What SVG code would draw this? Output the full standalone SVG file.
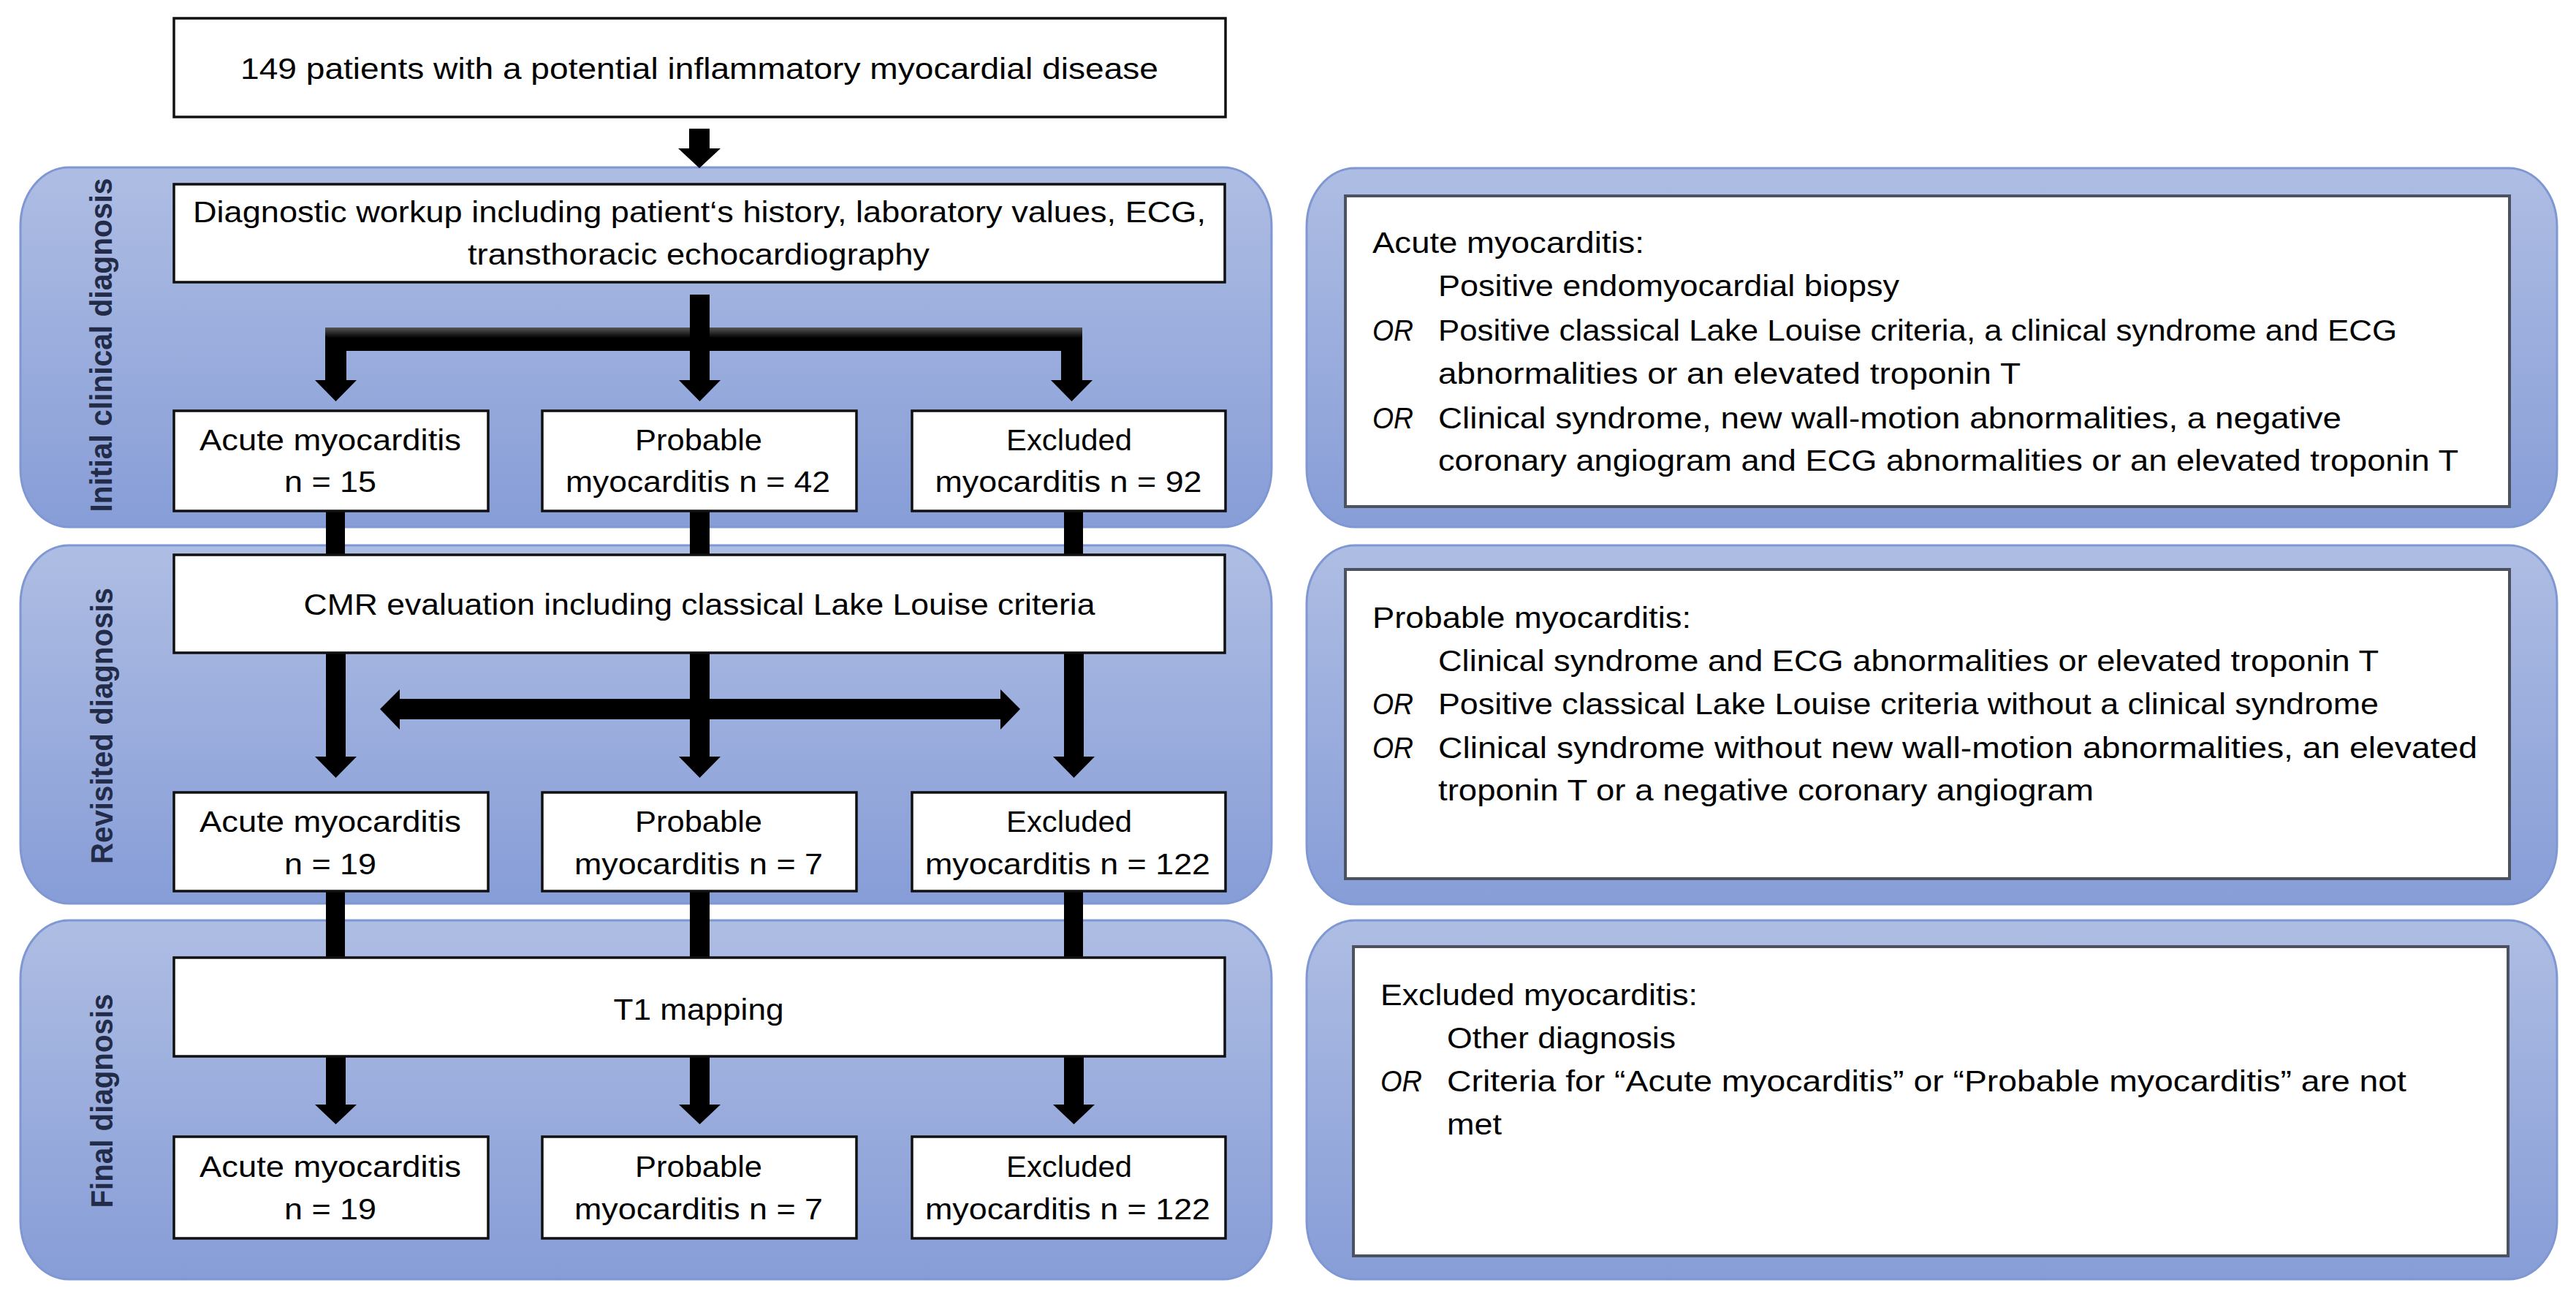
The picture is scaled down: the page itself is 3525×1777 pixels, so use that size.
<svg xmlns="http://www.w3.org/2000/svg" width="3525" height="1777" viewBox="0 0 3525 1777">
<defs>
  <linearGradient id="panelGrad" x1="0" y1="0" x2="0" y2="1">
    <stop offset="0" stop-color="#aebde3"/>
    <stop offset="1" stop-color="#879dd7"/>
  </linearGradient>
  <linearGradient id="barGrad" x1="0" y1="0" x2="0" y2="1">
    <stop offset="0" stop-color="#555"/>
    <stop offset="0.45" stop-color="#000"/>
  </linearGradient>
</defs>
<style>
  .panel{fill:url(#panelGrad);stroke:#7f97d2;stroke-width:3}
  .box{fill:#fff;stroke:#111;stroke-width:3.5}
  .defbox{fill:#fff;stroke:#4d5260;stroke-width:4}
  .t{font-family:"Liberation Sans",Arial,sans-serif;font-size:40px;fill:#000}
  .c{text-anchor:middle}
  .or{font-style:italic}
  .lab{font-family:"Liberation Sans",Arial,sans-serif;font-weight:bold;font-size:43px;fill:#222c48;text-anchor:middle}
  .arrow{fill:#000}
</style>
<rect width="3525" height="1777" fill="#fff"/>

<g id="panels">
  <g id="panel-initial">
    <rect class="panel" x="28" y="229" width="1712" height="492" rx="66" ry="80"/>
    <text class="lab" transform="translate(153,472) rotate(-90)" textLength="457" lengthAdjust="spacingAndGlyphs">Initial clinical diagnosis</text>
  </g>
  <g id="panel-revisited">
    <rect class="panel" x="28" y="746" width="1712" height="490" rx="66" ry="80"/>
    <text class="lab" transform="translate(154,993) rotate(-90)" textLength="378" lengthAdjust="spacingAndGlyphs">Revisited diagnosis</text>
  </g>
  <g id="panel-final">
    <rect class="panel" x="28" y="1259" width="1712" height="491" rx="66" ry="80"/>
    <text class="lab" transform="translate(154,1506) rotate(-90)" textLength="293" lengthAdjust="spacingAndGlyphs">Final diagnosis</text>
  </g>
  <rect class="panel" x="1788" y="230" width="1711" height="491" rx="66" ry="80"/>
  <rect class="panel" x="1788" y="746" width="1711" height="491" rx="66" ry="80"/>
  <rect class="panel" x="1788" y="1259" width="1711" height="491" rx="66" ry="80"/>
</g>

<g id="connectors">
  <path class="arrow" d="M943,176 H971 V203 H986 L957,230 L928,203 H943 Z"/>
  <rect x="445" y="448" width="1036" height="32" fill="url(#barGrad)"/>
  <path class="arrow" d="M445,479 H474 V520 H488 L459.5,549 L431,520 H445 Z"/>
  <path class="arrow" d="M1452,479 H1481 V520 H1495 L1466.5,549 L1438,520 H1452 Z"/>
  <path class="arrow" d="M944,403 H971 V520 H986 L957.5,549 L929,520 H944 Z"/>
  <rect class="arrow" x="446" y="697" width="26" height="64"/>
  <rect class="arrow" x="944" y="697" width="27" height="64"/>
  <rect class="arrow" x="1456" y="697" width="26" height="64"/>
  <path class="arrow" d="M446,891 H473 V1035 H488 L459.5,1064 L431,1035 H446 Z"/>
  <path class="arrow" d="M944,891 H971 V1035 H986 L957.5,1064 L929,1035 H944 Z"/>
  <path class="arrow" d="M1456,891 H1483 V1035 H1498 L1469.5,1064 L1441,1035 H1456 Z"/>
  <path class="arrow" d="M520,970 L547,943 V956 H1369 V943 L1396,970 L1369,998 V984 H547 V998 Z"/>
  <rect class="arrow" x="446" y="1217" width="26" height="95"/>
  <rect class="arrow" x="944" y="1217" width="27" height="95"/>
  <rect class="arrow" x="1456" y="1217" width="26" height="95"/>
  <path class="arrow" d="M446,1443 H473 V1511 H488 L459.5,1538 L431,1511 H446 Z"/>
  <path class="arrow" d="M944,1443 H971 V1511 H986 L957.5,1538 L929,1511 H944 Z"/>
  <path class="arrow" d="M1456,1443 H1483 V1511 H1498 L1469.5,1538 L1441,1511 H1456 Z"/>
</g>

<g id="node-start">
  <rect class="box" x="238" y="25" width="1439" height="135"/>
  <text class="t c" x="957" y="108" font-size="42" textLength="1256" lengthAdjust="spacingAndGlyphs">149 patients with a potential inflammatory myocardial disease</text>
</g>
<g id="node-workup">
  <rect class="box" x="238" y="252" width="1438" height="134"/>
  <text class="t c" x="957" y="304" textLength="1386" lengthAdjust="spacingAndGlyphs">Diagnostic workup including patient‘s history, laboratory values, ECG,</text>
  <text class="t c" x="956" y="362" textLength="632" lengthAdjust="spacingAndGlyphs">transthoracic echocardiography</text>
</g>
<g id="node-initial-acute">
  <rect class="box" x="238" y="562" width="430" height="137"/>
  <text class="t c" x="452" y="616" textLength="358" lengthAdjust="spacingAndGlyphs">Acute myocarditis</text>
  <text class="t c" x="452" y="673" textLength="126" lengthAdjust="spacingAndGlyphs">n = 15</text>
</g>
<g id="node-initial-probable">
  <rect class="box" x="742" y="562" width="430" height="137"/>
  <text class="t c" x="956" y="616" textLength="174" lengthAdjust="spacingAndGlyphs">Probable</text>
  <text class="t c" x="955" y="673" textLength="362" lengthAdjust="spacingAndGlyphs">myocarditis n = 42</text>
</g>
<g id="node-initial-excluded">
  <rect class="box" x="1248" y="562" width="429" height="137"/>
  <text class="t c" x="1463" y="616" textLength="172" lengthAdjust="spacingAndGlyphs">Excluded</text>
  <text class="t c" x="1462" y="673" textLength="365" lengthAdjust="spacingAndGlyphs">myocarditis n = 92</text>
</g>
<g id="node-cmr">
  <rect class="box" x="238" y="759" width="1438" height="134"/>
  <text class="t c" x="957" y="841" textLength="1083" lengthAdjust="spacingAndGlyphs">CMR evaluation including classical Lake Louise criteria</text>
</g>
<g id="node-revisited-acute">
  <rect class="box" x="238" y="1084" width="430" height="135"/>
  <text class="t c" x="452" y="1138" textLength="358" lengthAdjust="spacingAndGlyphs">Acute myocarditis</text>
  <text class="t c" x="452" y="1196" textLength="126" lengthAdjust="spacingAndGlyphs">n = 19</text>
</g>
<g id="node-revisited-probable">
  <rect class="box" x="742" y="1084" width="430" height="135"/>
  <text class="t c" x="956" y="1138" textLength="174" lengthAdjust="spacingAndGlyphs">Probable</text>
  <text class="t c" x="956" y="1196" textLength="340" lengthAdjust="spacingAndGlyphs">myocarditis n = 7</text>
</g>
<g id="node-revisited-excluded">
  <rect class="box" x="1248" y="1084" width="429" height="135"/>
  <text class="t c" x="1463" y="1138" textLength="172" lengthAdjust="spacingAndGlyphs">Excluded</text>
  <text class="t c" x="1461" y="1196" textLength="390" lengthAdjust="spacingAndGlyphs">myocarditis n = 122</text>
</g>
<g id="node-t1">
  <rect class="box" x="238" y="1310" width="1438" height="135"/>
  <text class="t c" x="956" y="1395" textLength="233" lengthAdjust="spacingAndGlyphs">T1 mapping</text>
</g>
<g id="node-final-acute">
  <rect class="box" x="238" y="1555" width="430" height="139"/>
  <text class="t c" x="452" y="1610" textLength="358" lengthAdjust="spacingAndGlyphs">Acute myocarditis</text>
  <text class="t c" x="452" y="1668" textLength="126" lengthAdjust="spacingAndGlyphs">n = 19</text>
</g>
<g id="node-final-probable">
  <rect class="box" x="742" y="1555" width="430" height="139"/>
  <text class="t c" x="956" y="1610" textLength="174" lengthAdjust="spacingAndGlyphs">Probable</text>
  <text class="t c" x="956" y="1668" textLength="340" lengthAdjust="spacingAndGlyphs">myocarditis n = 7</text>
</g>
<g id="node-final-excluded">
  <rect class="box" x="1248" y="1555" width="429" height="139"/>
  <text class="t c" x="1463" y="1610" textLength="172" lengthAdjust="spacingAndGlyphs">Excluded</text>
  <text class="t c" x="1461" y="1668" textLength="390" lengthAdjust="spacingAndGlyphs">myocarditis n = 122</text>
</g>

<g id="def-acute">
  <rect class="defbox" x="1841" y="268" width="1593" height="425"/>
  <text class="t" x="1878" y="346" textLength="372" lengthAdjust="spacingAndGlyphs">Acute myocarditis:</text>
  <text class="t" x="1968" y="405" textLength="631" lengthAdjust="spacingAndGlyphs">Positive endomyocardial biopsy</text>
  <text class="t or" x="1878" y="466" textLength="56" lengthAdjust="spacingAndGlyphs">OR</text>
  <text class="t" x="1968" y="466" textLength="1312" lengthAdjust="spacingAndGlyphs">Positive classical Lake Louise criteria, a clinical syndrome and ECG</text>
  <text class="t" x="1968" y="525" textLength="797" lengthAdjust="spacingAndGlyphs">abnormalities or an elevated troponin T</text>
  <text class="t or" x="1878" y="586" textLength="56" lengthAdjust="spacingAndGlyphs">OR</text>
  <text class="t" x="1968" y="586" textLength="1236" lengthAdjust="spacingAndGlyphs">Clinical syndrome, new wall-motion abnormalities, a negative</text>
  <text class="t" x="1968" y="644" textLength="1396" lengthAdjust="spacingAndGlyphs">coronary angiogram and ECG abnormalities or an elevated troponin T</text>
</g>
<g id="def-probable">
  <rect class="defbox" x="1841" y="779" width="1593" height="423"/>
  <text class="t" x="1878" y="859" textLength="436" lengthAdjust="spacingAndGlyphs">Probable myocarditis:</text>
  <text class="t" x="1968" y="918" textLength="1287" lengthAdjust="spacingAndGlyphs">Clinical syndrome and ECG abnormalities or elevated troponin T</text>
  <text class="t or" x="1878" y="977" textLength="56" lengthAdjust="spacingAndGlyphs">OR</text>
  <text class="t" x="1968" y="977" textLength="1287" lengthAdjust="spacingAndGlyphs">Positive classical Lake Louise criteria without a clinical syndrome</text>
  <text class="t or" x="1878" y="1037" textLength="56" lengthAdjust="spacingAndGlyphs">OR</text>
  <text class="t" x="1968" y="1037" textLength="1422" lengthAdjust="spacingAndGlyphs">Clinical syndrome without new wall-motion abnormalities, an elevated</text>
  <text class="t" x="1968" y="1095" textLength="897" lengthAdjust="spacingAndGlyphs">troponin T or a negative coronary angiogram</text>
</g>
<g id="def-excluded">
  <rect class="defbox" x="1852" y="1295" width="1580" height="423"/>
  <text class="t" x="1889" y="1375" textLength="434" lengthAdjust="spacingAndGlyphs">Excluded myocarditis:</text>
  <text class="t" x="1980" y="1434" textLength="313" lengthAdjust="spacingAndGlyphs">Other diagnosis</text>
  <text class="t or" x="1889" y="1493" textLength="57" lengthAdjust="spacingAndGlyphs">OR</text>
  <text class="t" x="1980" y="1493" textLength="1313" lengthAdjust="spacingAndGlyphs">Criteria for “Acute myocarditis” or “Probable myocarditis” are not</text>
  <text class="t" x="1980" y="1552" textLength="75" lengthAdjust="spacingAndGlyphs">met</text>
</g>
</svg>
